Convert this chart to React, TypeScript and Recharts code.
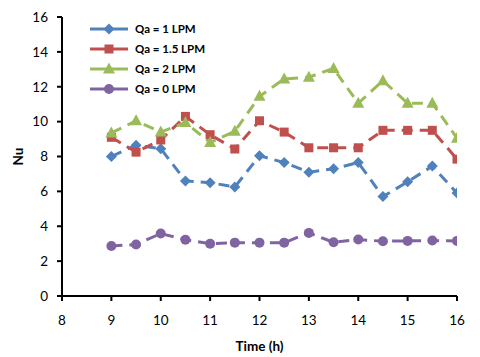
import React from 'react';
import { LineChart, Line, XAxis, YAxis, Legend, Label } from 'recharts';

const times = [9, 9.5, 10, 10.5, 11, 11.5, 12, 12.5, 13, 13.5, 14, 14.5, 15, 15.5, 16];
const qa1 = [8.0, 8.65, 8.45, 6.6, 6.5, 6.25, 8.05, 7.65, 7.1, 7.3, 7.65, 5.7, 6.55, 7.45, 5.9];
const qa15 = [9.1, 8.25, 8.95, 10.3, 9.25, 8.43, 10.05, 9.4, 8.5, 8.5, 8.5, 9.5, 9.5, 9.5, 7.85];
const qa2 = [9.35, 10.05, 9.4, 9.95, 8.8, 9.45, 11.45, 12.45, 12.55, 13.05, 11.05, 12.35, 11.05, 11.05, 9.05];
const qa0 = [2.87, 2.95, 3.58, 3.23, 3.0, 3.06, 3.06, 3.06, 3.62, 3.08, 3.24, 3.14, 3.16, 3.18, 3.16];

const xTicks = [8, 9, 10, 11, 12, 13, 14, 15, 16];
const yTicks = [0, 2, 4, 6, 8, 10, 12, 14, 16];

const seriesNames = ['Qa = 1 LPM', 'Qa = 1.5 LPM', 'Qa = 2 LPM', 'Qa = 0 LPM'];
const seriesColors = ['#4F81BD', '#C0504D', '#9BBB59', '#8064A2'];
const seriesShapes = ['diamond', 'square', 'triangle', 'circle'];
const seriesValues = [qa1, qa15, qa2, qa0];

const data = times.map((t, i) => ({
  t,
  s0: qa1[i],
  s1: qa15[i],
  s2: qa2[i],
  s3: qa0[i],
}));

const FONT = 'Lato, "Open Sans", sans-serif';

function MarkerShape({ cx, cy, shape, color }: any) {
  if (cx == null || cy == null) return null;
  if (shape === 'diamond') {
    const r = 5.5;
    return <polygon points={`${cx},${cy - r} ${cx + r},${cy} ${cx},${cy + r} ${cx - r},${cy}`} fill={color} />;
  }
  if (shape === 'square') {
    const s = 9;
    return <rect x={cx - s / 2} y={cy - s / 2} width={s} height={s} fill={color} />;
  }
  if (shape === 'triangle') {
    return <polygon points={`${cx},${cy - 6.5} ${cx + 6},${cy + 4.5} ${cx - 6},${cy + 4.5}`} fill={color} />;
  }
  return <circle cx={cx} cy={cy} r={5} fill={color} />;
}

function makeDot(i: number) {
  return (props: any) => (
    <MarkerShape key={`d${i}-${props.index}`} cx={props.cx} cy={props.cy} shape={seriesShapes[i]} color={seriesColors[i]} />
  );
}

function CustomLegend() {
  return (
    <div style={{ fontFamily: FONT, fontWeight: 700, fontSize: 11.5, color: '#000', lineHeight: 1 }}>
      {seriesNames.map((name, i) => (
        <div key={name} style={{ display: 'flex', alignItems: 'center', height: 20, whiteSpace: 'nowrap' }}>
          <svg width={42} height={16} style={{ display: 'block' }}>
            <line x1={1} y1={8} x2={39} y2={8} stroke={seriesColors[i]} strokeWidth={3} />
            <MarkerShape cx={20} cy={8} shape={seriesShapes[i]} color={seriesColors[i]} />
          </svg>
          <span style={{ marginLeft: 4 }}>{name}</span>
        </div>
      ))}
    </div>
  );
}

export default function App() {
  return (
    <div style={{ position: 'absolute', left: 0, top: 0, width: 480, height: 357, background: '#fff' }}>
      <LineChart width={480} height={357} data={data} margin={{ top: 17, right: 23, left: 0, bottom: 0 }}>
        <XAxis
          dataKey="t"
          type="number"
          domain={[8, 16]}
          ticks={xTicks}
          allowDataOverflow
          axisLine={{ stroke: '#000', strokeWidth: 2 }}
          tickLine={{ stroke: '#000', strokeWidth: 2 }}
          tickSize={5}
          tickMargin={14}
          height={61}
          tick={{ fill: '#000', fontSize: 13.5, fontFamily: FONT }}
        >
          <Label value="Time (h)" position="insideBottom" offset={6} style={{ fontFamily: FONT, fontWeight: 700, fontSize: 13.5, fill: '#000' }} />
        </XAxis>
        <YAxis
          type="number"
          domain={[0, 16]}
          ticks={yTicks}
          width={62}
          axisLine={{ stroke: '#000', strokeWidth: 2 }}
          tickLine={{ stroke: '#000', strokeWidth: 2 }}
          tickSize={5}
          tickMargin={9}
          tick={{ fill: '#000', fontSize: 13.5, fontFamily: FONT }}
        >
          <Label
            content={(props: any) => {
              const vb = props.viewBox || {};
              const x = (vb.x || 0) + 18;
              const y = (vb.y || 0) + (vb.height || 0) / 2;
              return (
                <text x={x} y={y} transform={`rotate(-90 ${x} ${y})`} textAnchor="middle" dominantBaseline="central" style={{ fontFamily: FONT, fontWeight: 700, fontSize: 13.5, fill: '#000' }}>
                  Nu
                </text>
              );
            }}
          />
        </YAxis>
        <Legend
          content={() => <CustomLegend />}
          layout="vertical"
          verticalAlign="middle"
          align="center"
          wrapperStyle={{ position: 'absolute', left: 89, top: 19, width: 160, height: 80 }}
        />
        {seriesValues.map((_, i) => (
          <Line
            key={i}
            dataKey={`s${i}`}
            name={seriesNames[i]}
            stroke={seriesColors[i]}
            strokeWidth={3}
            strokeDasharray="11 7"
            dot={makeDot(i)}
            activeDot={false}
            isAnimationActive={false}
          />
        ))}
      </LineChart>
    </div>
  );
}
